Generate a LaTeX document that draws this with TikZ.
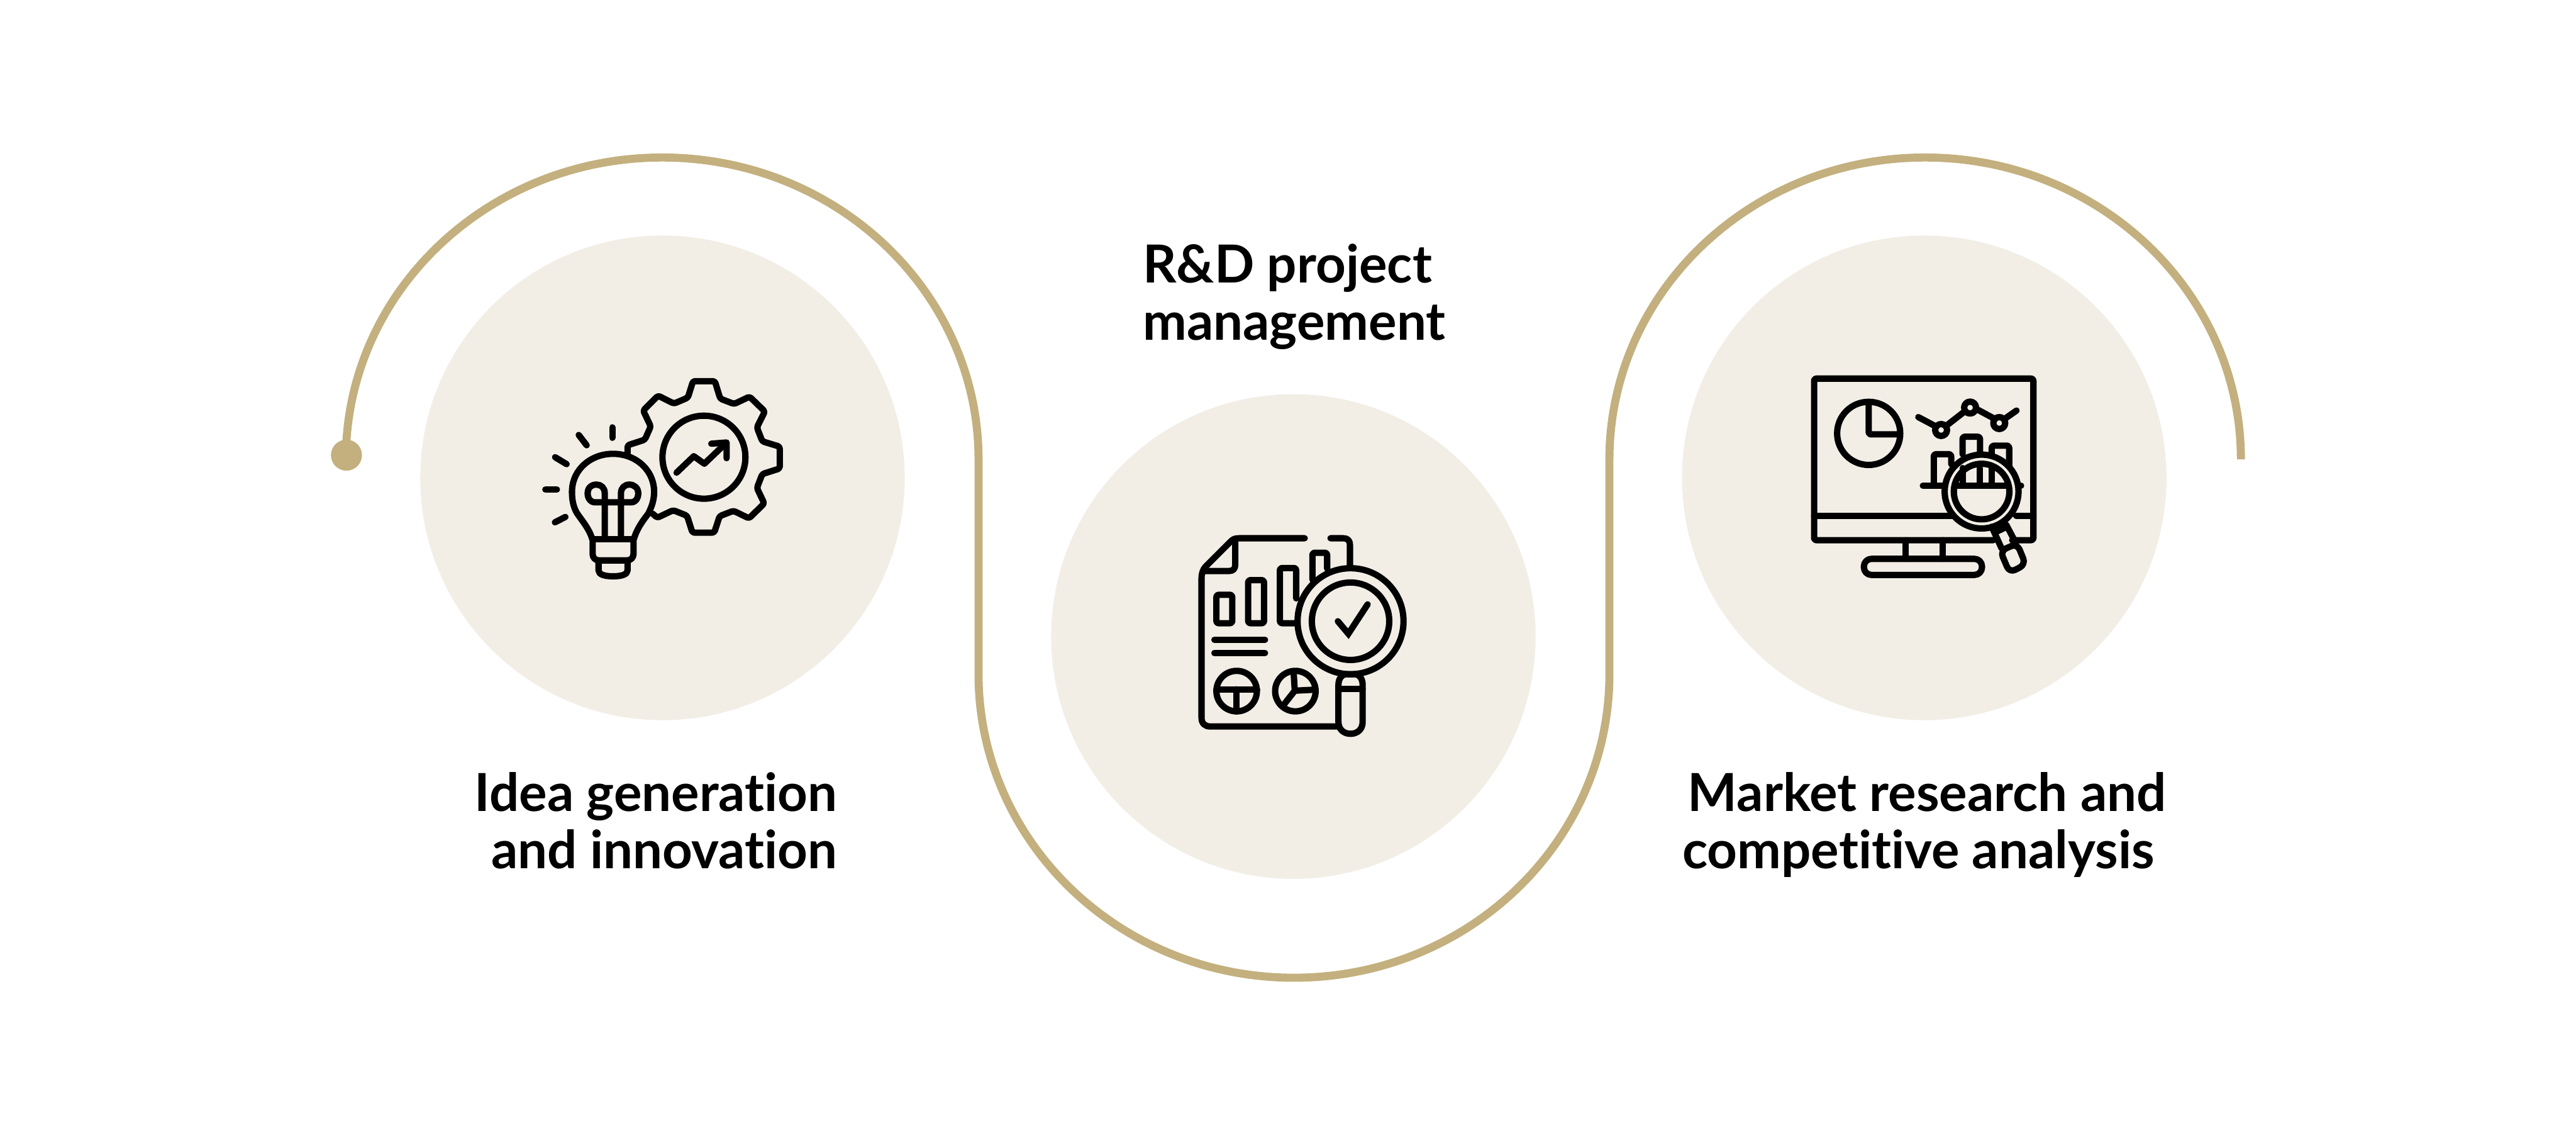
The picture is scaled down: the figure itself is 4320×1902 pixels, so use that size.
\documentclass[tikz,border=0pt]{standalone}
\usepackage{fontspec}
\setmainfont[Ligatures=NoCommon]{Lato}
\definecolor{sand}{HTML}{C3B07E}
\definecolor{shell}{HTML}{F2EEE6}
\begin{document}
\begin{tikzpicture}[x=.01cm,y=-.01cm,
    blob/.style = {shape=circle, fill=shell, inner sep=0pt, minimum size=8.12cm},
    knob/.style = {shape=circle, fill=sand, inner sep=0pt, minimum size=.52cm},
    caption/.style = {inner sep=0pt, font=\fontsize{25}{27.2}\selectfont\bfseries},
    trail/.style = {draw=sand, line width=.135cm},
    icon/.style = {draw=black, line width=.106cm, line cap=round, line join=round},
    iconround/.style = {icon, rounded corners=1pt}]
  \useasboundingbox (0,0) rectangle (4320,1902);
  \node[blob] (idea) at (1111,801) {};
  \node[blob] (project) at (2169,1067) {};
  \node[blob] (market) at (3227,801) {};
  \node[knob] (start) at (581,763) {};
  \coordinate (finish) at (3758,770);
  \draw[trail] (start.center) -- (580,770) arc[start angle=180, end angle=360, x radius=530.5, y radius=506]
    -- (1641,1130) arc[start angle=180, end angle=0, x radius=529, y radius=509]
    -- (2699,770) arc[start angle=180, end angle=360, x radius=529.5, y radius=506] -- (finish);
  \node[caption,align=right,anchor=base east] (idealabel) at (1405,1456) {Idea generation\\and innovation};
  \node[caption,align=left,anchor=base west] (projectlabel) at (1916,570) {R\&D project\\management};
  \node[caption,align=left,anchor=base west] (marketlabel) at (2821,1456) {\hspace*{.09cm}Market research and\\competitive analysis};
  \begin{scope}[shift={(880,600)},x=.00333cm,y=-.00333cm]
    \draw[iconround] (518,482) -- (518,440) -- (605,412) -- (635,345) -- (597,265) -- (672,190) -- (752,230)
      -- (822,200) -- (848,117) -- (958,117) -- (985,205) -- (1055,232) -- (1133,195) -- (1210,270) -- (1170,350)
      -- (1197,420) -- (1285,447) -- (1285,557) -- (1197,585) -- (1170,655) -- (1207,733) -- (1130,808) -- (1052,770)
      -- (982,797) -- (955,880) -- (845,880) -- (818,795) -- (748,767) -- (668,805) -- (645,785);
    \draw[icon] (903,500) circle (209);
    \draw[icon] (765,578) -- (852,495) -- (905,533) -- (1015,428);
    \draw[icon] (940,432) -- (1017,426) -- (1017,505);
    \draw[icon] (340,912) .. controls (325,860) and (285,815) .. (262,780) .. controls (245,750) and (238,715) .. (238,675)
      .. controls (238,565) and (330,483) .. (445,483) .. controls (560,483) and (652,565) .. (652,675)
      .. controls (652,715) and (640,750) .. (622,785) .. controls (595,820) and (565,860) .. (550,912);
    \draw[icon,rounded corners=3pt] (342,912) -- (342,1020) -- (548,1020) -- (548,912);
    \draw[icon] (342,912) -- (548,912);
    \draw[icon] (372,1020) -- (372,1070) .. controls (372,1090) and (400,1100) .. (445,1100)
      .. controls (490,1100) and (518,1090) .. (518,1070) -- (518,1020);
    \draw[icon] (403,912) -- (403,680) .. controls (403,655) and (385,638) .. (362,638) .. controls (335,638) and (317,655) .. (317,682)
      .. controls (317,710) and (335,727) .. (350,727) -- (540,727) .. controls (555,727) and (572,710) .. (572,682)
      .. controls (572,655) and (552,638) .. (527,638) .. controls (503,638) and (485,655) .. (485,680) -- (485,912);
    \foreach \a/\b/\c/\d in {441/350/441/402, 272/388/312/440, 153/500/211/535, 104/663/162/663, 152/828/205/801}
      \draw[icon] (\a,\b) -- (\c,\d);
  \end{scope}
  \begin{scope}[shift={(1980,860)},x=.00333cm,y=-.00333cm]
    \draw[icon] (625,127) -- (295,127) .. controls (275,127) and (265,130) .. (250,145) -- (125,270)
      .. controls (112,285) and (105,305) .. (105,330) -- (105,1030) .. controls (105,1058) and (120,1075) .. (148,1075) -- (790,1075);
    \draw[icon] (275,130) -- (275,260) .. controls (275,280) and (265,292) .. (245,292) -- (120,292);
    \draw[icon] (755,127) -- (820,127) .. controls (842,127) and (853,140) .. (853,160) -- (853,270);
    \draw[iconround] (180,412) rectangle (260,555);
    \draw[iconround] (340,338) rectangle (420,555);
    \draw[iconround] (582,430) -- (582,277) -- (500,277) -- (500,555) -- (585,555);
    \draw[iconround] (664,335) -- (664,200) -- (738,200) -- (738,280);
    \draw[icon] (170,638) -- (425,638);
    \draw[icon] (170,705) -- (425,705);
    \draw[icon] (282,897) circle (102);
    \draw[icon] (180,888) -- (385,888);
    \draw[icon] (282,888) -- (282,1000);
    \draw[icon] (578,897) circle (102);
    \draw[icon] (570,815) -- (575,895) -- (670,890);
    \draw[icon] (575,895) -- (520,965);
    \draw[icon] (856,545) circle (267);
    \draw[icon] (856,545) circle (195);
    \draw[icon,line join=miter] (792,545) -- (845,608) -- (942,460);
    \draw[icon] (795,865) .. controls (795,835) and (812,812) .. (835,812) -- (877,812) .. controls (900,812) and (917,835) .. (917,865)
      -- (917,1052) .. controls (917,1090) and (890,1112) .. (856,1112) .. controls (822,1112) and (795,1090) .. (795,1052) -- cycle;
    \draw[icon] (795,885) -- (917,885);
  \end{scope}
  \begin{scope}[shift={(3000,610)},x=.00333cm,y=-.00333cm]
    \draw[iconround] (1030,888) -- (127,888) -- (127,74) -- (1232,74) -- (1232,888) -- (1125,888);
    \draw[icon] (127,765) -- (825,765);
    \draw[icon] (1145,765) -- (1232,765);
    \draw[icon] (588,888) -- (588,982);
    \draw[icon] (776,888) -- (776,982);
    \draw[icon,rounded corners=3.6pt] (378,982) rectangle (973,1063);
    \draw[icon] (402,350) circle (159);
    \draw[iconround] (402,195) -- (402,355) -- (555,355);
    \draw[icon] (652,268) -- (735,312);
    \draw[icon] (795,310) -- (885,240);
    \draw[icon] (950,230) -- (1030,273);
    \draw[icon] (1090,275) -- (1147,235);
    \draw[icon] (767,333) circle (30);
    \draw[icon] (913,220) circle (30);
    \draw[icon] (1060,298) circle (30);
    \draw[iconround] (730,610) -- (730,455) -- (818,455) -- (818,505);
    \draw[iconround] (875,455) -- (875,367) -- (963,367) -- (963,445);
    \draw[iconround] (1022,450) -- (1022,412) -- (1110,412) -- (1110,515);
    \draw[icon] (675,613) -- (775,613);
    \draw[icon] (1160,613) -- (1170,613);
    \draw[icon] (845,613) -- (1097,613);
    \foreach \a in {875,963,1022}
      \draw[icon] (\a,525) -- (\a,613);
    \draw[icon] (971,643) circle (186);
    \draw[icon] (971,643) circle (140);
    \draw[icon] (1022,820) -- (1072,930);
    \draw[icon] (1095,810) -- (1145,905);
    \draw[icon] (1040,848) -- (1095,822);
    \draw[icon,rounded corners=3pt] (1065,942) -- (1150,905) -- (1193,1010) -- (1112,1052) -- cycle;
  \end{scope}
\end{tikzpicture}
\end{document}
